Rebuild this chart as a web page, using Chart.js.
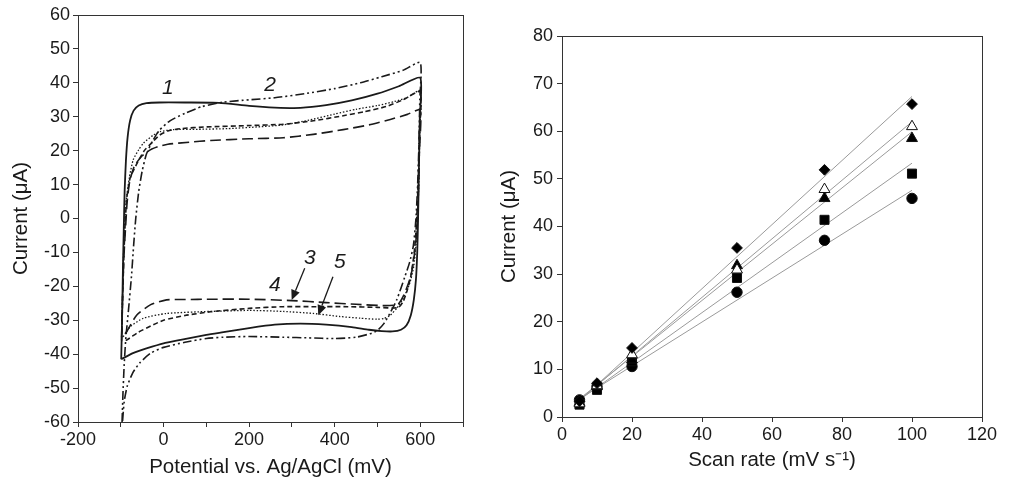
<!DOCTYPE html>
<html><head><meta charset="utf-8">
<script src="https://cdn.jsdelivr.net/npm/chart.js@4/dist/chart.umd.min.js"></script>
<style>
html,body{margin:0;padding:0;background:#fff;width:1010px;height:486px;overflow:hidden}
#c1{position:absolute;left:0;top:0;width:505px;height:486px}
#c2{position:absolute;left:485px;top:0;width:525px;height:486px}
</style></head><body>
<canvas id="c1" width="505" height="486"></canvas>
<canvas id="c2" width="525" height="486"></canvas>
<script>
// ---------- Left panel: cyclic voltammograms (potential mV, current µA) ----------
const cv1 = [[-99,-41.5],[-97,-30],[-95,-15],[-93,-3],[-91,8],[-88,17],[-84,24],[-78,29],[-70,31.8],[-58,33.3],[-40,34],[-10,34.2],[50,34.2],[130,34.1],[200,33.2],[260,32.7],[320,32.6],[380,33.4],[440,34.8],[500,36.8],[550,39],[600,41.5],
  [599,30],[597,15],[595,0],[593,-10],[590,-18],[585,-24],[578,-28.5],[568,-31.5],[555,-32.8],[535,-33.3],[510,-33.2],[480,-32.8],[440,-32],[380,-31.3],[320,-31],[260,-31.3],[200,-32.3],[140,-33.5],[100,-34.3],[40,-35.8],[0,-36.8],[-40,-38.3],[-70,-39.6],[-99,-41.5]];
const cv2 = [[-97,-60],[-95,-52],[-92,-43],[-88,-35],[-82,-27],[-75,-17],[-70,-8],[-65,0],[-58,8],[-50,14],[-40,19],[-25,23],[-10,26],[15,28.8],[50,31],[90,33],[140,34.3],[200,35],[260,35.6],[330,36.8],[400,38.3],[460,40],[510,41.8],[560,43.7],[600,46],
  [599,35],[597,22],[594,10],[590,0],[584,-8],[575,-13],[564,-17.2],[545,-24],[529,-28],[515,-31],[500,-33],[482,-34],[450,-35],[400,-35.4],[340,-35.2],[280,-35],[200,-34.8],[140,-35],[100,-35.4],[50,-36.5],[0,-38],[-30,-39.7],[-55,-42.5],[-72,-45.5],[-85,-49.5],[-92,-54],[-96,-60]];
const cv3 = [[-98,-36],[-96,-25],[-93,-12],[-90,-2],[-86,6],[-78,12],[-63,16],[-45,20],[-30,22],[-10,24.5],[10,25.8],[40,26.5],[100,27],[200,27.4],[280,27.8],[350,28.8],[420,30.3],[470,31.5],[520,33],[560,35],[600,37.4],
  [598,25],[595,10],[591,-2],[586,-10],[578,-17],[570,-21],[560,-24.5],[548,-26.3],[500,-26.2],[430,-26],[350,-26],[280,-26],[200,-26.5],[110,-27.5],[50,-28.6],[0,-30],[-30,-31.7],[-60,-33.6],[-86,-35.8],[-98,-36]];
const cv4 = [[-98,-35],[-96,-24],[-93,-12],[-89,-3],[-85,5],[-79,11],[-68,15.5],[-50,18.5],[-30,20.3],[-10,21.3],[10,21.9],[60,22.5],[110,23],[200,23.5],[280,23.8],[350,24.8],[420,26.2],[480,27.6],[530,29.2],[570,30.7],[600,32],
  [598,20],[595,5],[591,-5],[585,-12],[578,-17],[570,-20],[560,-23],[548,-25.3],[520,-25.7],[450,-25.3],[380,-24.8],[300,-24.2],[200,-23.8],[110,-23.8],[50,-23.9],[7,-24],[-30,-25.4],[-63,-28.5],[-86,-33.3],[-98,-35]];
const cv5 = [[-98,-35],[-96,-24],[-94,-12],[-91,-2],[-87,5.5],[-80,12],[-71,17.3],[-58,20.3],[-47,22.2],[-25,24.5],[-8,25.6],[23,26.2],[80,26.3],[150,26.5],[220,27],[280,27.6],[340,29],[400,30.8],[450,32.2],[500,33.3],[540,34.5],[570,35.7],[600,37.7],
  [599,25],[597,12],[594,0],[590,-8],[585,-14],[578,-18],[570,-21],[558,-24],[545,-26.5],[530,-28.5],[515,-29.5],[500,-29.7],[460,-29.4],[412,-28.9],[350,-28],[280,-27.4],[200,-27.1],[108,-27.4],[7,-28],[-47,-29.4],[-78,-31.9],[-94,-34.8],[-98,-35]];

const curveLabels = ['1','2','3','4','5'];
const labelE = [10, 249, 342, 260, 412];
const labelI = [38.5, 39.4, -11.6, -19.6, -12.8];
const arrowFromE = [330, 396], arrowFromI = [-14.7, -17.2];
const arrowToE = [299.5, 361.7], arrowToI = [-24, -28.5];

// ---------- Right panel: current vs scan rate ----------
const scanRates = [5, 10, 20, 50, 75, 100];
const diamondI  = [3.3, 7.1, 14.5, 35.5, 51.9, 65.7];
const openTriI  = [2.8, 6.6, 13.1, 30.9, 47.8, 61.0];
const filledTriI= [3.0, 6.4, 12.0, 31.8, 45.9, 58.5];
const squareI   = [2.6, 5.7, 11.7, 29.2, 41.4, 51.1];
const circleI   = [3.6, 6.4, 10.6, 26.2, 37.1, 45.9];
const fitX = [5, 100];
const diamondFit   = [3.4, 67.3];
const openTriFit   = [3.6, 62.0];
const filledTriFit = [3.8, 59.9];
const squareFit    = [3.6, 53.3];
const circleFit    = [3.8, 47.6];

const FONT = "'Liberation Sans', Arial, Helvetica, sans-serif";
const INK = '#1a1a1a';
const TICK = 18, TITLE = 20.5;
Chart.defaults.font.family = FONT;
Chart.defaults.color = INK;

const boxPlugin = {
  id: 'box',
  afterDraw(chart) {
    const a = chart.chartArea, c = chart.ctx;
    c.save(); c.strokeStyle = '#333'; c.lineWidth = 1;
    c.strokeRect(Math.round(a.left) + 0.5, Math.round(a.top) + 0.5, Math.round(a.right - a.left), Math.round(a.bottom - a.top));
    c.restore();
  }
};

const toPts = arr => arr.map(p => ({x: p[0], y: p[1]}));
const cvStyles = [
  {w: 1.8, dash: []},
  {w: 1.6, dash: [9, 3, 2, 3, 2, 3]},
  {w: 1.6, dash: [5, 3]},
  {w: 1.6, dash: [11, 5]},
  {w: 1.3, dash: [1.5, 1.8]}
];
const cvData = [cv1, cv2, cv3, cv4, cv5];

const annotPlugin = {
  id: 'annot',
  afterDatasetsDraw(chart) {
    const xs = chart.scales.x, ys = chart.scales.y, c = chart.ctx;
    c.save();
    c.fillStyle = INK; c.strokeStyle = INK;
    c.font = "italic 21px " + FONT;
    c.textAlign = 'center'; c.textBaseline = 'middle';
    curveLabels.forEach((t, i) => c.fillText(t, xs.getPixelForValue(labelE[i]), ys.getPixelForValue(labelI[i])));
    c.lineWidth = 1.3;
    for (let i = 0; i < arrowFromE.length; i++) {
      const x1 = xs.getPixelForValue(arrowFromE[i]), y1 = ys.getPixelForValue(arrowFromI[i]);
      const x2 = xs.getPixelForValue(arrowToE[i]), y2 = ys.getPixelForValue(arrowToI[i]);
      const ang = Math.atan2(y2 - y1, x2 - x1), L = 10, W = 4.5;
      const bx = x2 - L * Math.cos(ang), by = y2 - L * Math.sin(ang);
      c.beginPath(); c.moveTo(x1, y1); c.lineTo(bx, by); c.stroke();
      c.beginPath(); c.moveTo(x2, y2);
      c.lineTo(bx + W * Math.sin(ang), by - W * Math.cos(ang));
      c.lineTo(bx - W * Math.sin(ang), by + W * Math.cos(ang));
      c.closePath(); c.fill();
    }
    c.restore();
  }
};

new Chart(document.getElementById('c1'), {
  type: 'scatter',
  data: {
    datasets: cvData.map((d, i) => ({
      data: toPts(d), showLine: true, pointRadius: 0, tension: 0.2,
      borderColor: INK, borderWidth: cvStyles[i].w, borderDash: cvStyles[i].dash, fill: false
    }))
  },
  options: {
    responsive: false, animation: false, events: [],
    layout: {padding: {left: 0, top: 15, right: 42, bottom: 0}},
    plugins: {legend: {display: false}, tooltip: {enabled: false}},
    scales: {
      x: {
        type: 'linear', min: -200, max: 700,
        afterFit: s => { s.height = 64; },
        ticks: {stepSize: 100, autoSkip: false, maxRotation: 0, padding: 2, color: INK, font: {size: TICK},
          callback: v => (v % 200 === 0 ? String(v) : '')},
        grid: {drawOnChartArea: false, tickLength: 5, color: '#333'},
        border: {color: '#333', width: 1},
        title: {display: true, text: 'Potential vs. Ag/AgCl (mV)', color: INK, font: {size: TITLE}, padding: {top: 0, bottom: 6.5}}
      },
      y: {
        min: -60, max: 60,
        afterFit: s => { s.width = 78; },
        ticks: {stepSize: 10, autoSkip: false, padding: 3, color: INK, font: {size: TICK}, callback: v => String(v)},
        grid: {drawOnChartArea: false, tickLength: 5, color: '#333'},
        border: {color: '#333', width: 1},
        title: {display: true, text: 'Current (μA)', color: INK, font: {size: TITLE}, padding: {top: 9.5, bottom: 0}}
      }
    }
  },
  plugins: [boxPlugin, annotPlugin]
});

const pts = ys => scanRates.map((x, i) => ({x, y: ys[i]}));
const fitPts = ys => fitX.map((x, i) => ({x, y: ys[i]}));
const markerSets = [
  {d: diamondI, style: 'rectRot', r: 5.4, bg: '#000'},
  {d: openTriI, style: 'triangle', r: 6.3, bg: '#fff'},
  {d: filledTriI, style: 'triangle', r: 6.3, bg: '#000'},
  {d: squareI, style: 'rect', r: 6.4, bg: '#000'},
  {d: circleI, style: 'circle', r: 5.2, bg: '#000'}
];
const fits = [diamondFit, openTriFit, filledTriFit, squareFit, circleFit];

new Chart(document.getElementById('c2'), {
  type: 'scatter',
  data: {
    datasets: [
      ...fits.map(f => ({data: fitPts(f), showLine: true, pointRadius: 0, borderColor: '#9a9a9a', borderWidth: 1, order: 2})),
      ...markerSets.map(m => ({data: pts(m.d), pointStyle: m.style, pointRadius: m.r, backgroundColor: m.bg,
        borderColor: '#111', borderWidth: 1, showLine: false, order: 1}))
    ]
  },
  options: {
    responsive: false, animation: false, events: [],
    layout: {padding: {left: 0, top: 36, right: 28, bottom: 0}},
    plugins: {legend: {display: false}, tooltip: {enabled: false}},
    scales: {
      x: {
        type: 'linear', min: 0, max: 120,
        afterFit: s => { s.height = 69; },
        ticks: {stepSize: 20, autoSkip: false, maxRotation: 0, padding: 2, color: INK, font: {size: TICK}, callback: v => String(v)},
        grid: {drawOnChartArea: false, tickLength: 5, color: '#333'},
        border: {color: '#333', width: 1},
        title: {display: true, text: 'Scan rate (mV s⁻¹)', color: INK, font: {size: TITLE}, padding: {top: 0, bottom: 13.5}}
      },
      y: {
        min: 0, max: 80,
        afterFit: s => { s.width = 77; },
        ticks: {stepSize: 10, autoSkip: false, padding: 4, color: INK, font: {size: TICK}, callback: v => String(v)},
        grid: {drawOnChartArea: false, tickLength: 5, color: '#333'},
        border: {color: '#333', width: 1},
        title: {display: true, text: 'Current (μA)', color: INK, font: {size: TITLE}, padding: {top: 12.5, bottom: 0}}
      }
    }
  },
  plugins: [boxPlugin]
});
</script>
</body></html>
